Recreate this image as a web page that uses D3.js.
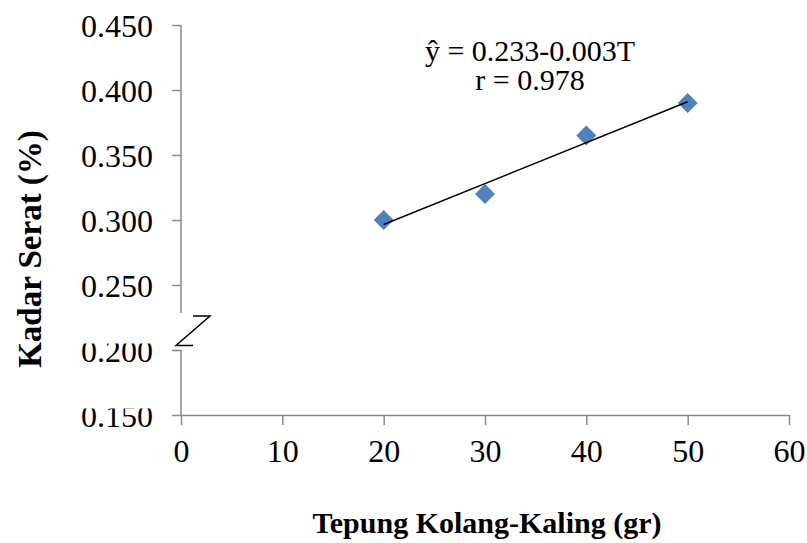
<!DOCTYPE html>
<html>
<head>
<meta charset="utf-8">
<script src="https://cdn.jsdelivr.net/npm/d3@7"></script>
<style>
  html, body { margin: 0; padding: 0; background: #fff; }
  svg { display: block; }
  svg text { font-family: "Liberation Serif", Tinos, "Times New Roman", Times, "DejaVu Serif", serif !important; font-weight: 400; fill: #000; }
  svg text.bold { font-weight: 700; }
</style>
</head>
<body>
<svg id="chart" width="807" height="543"></svg>
<script>
// ---- data ----
const flourGrams = [20, 30, 40, 50];
const fiberPct = [0.300, 0.320, 0.365, 0.390];
const xTicks = [0, 10, 20, 30, 40, 50, 60];
const yTicks = [0.150, 0.200, 0.250, 0.300, 0.350, 0.400, 0.450];
const clippedYTicks = [0.150, 0.200];
const equationLines = ["ŷ = 0.233-0.003T", "r = 0.978"];
const xTitle = "Tepung Kolang-Kaling (gr)";
const yTitle = "Kadar Serat (%)";

// ---- layout ----
const serif = "'Liberation Serif', Tinos, 'Times New Roman', Times, 'DejaVu Serif', serif";
const svg = d3.select("#chart");
const x = d3.scaleLinear().domain([0, 60]).range([181, 789]);
const y = d3.scaleLinear().domain([0.15, 0.45]).range([415, 25]);
const axisColor = "#8a8a8a";

// y axis (no domain; drawn with break)
const yAxis = svg.append("g")
  .attr("transform", `translate(${x(0)},0)`)
  .call(d3.axisLeft(y).tickValues(yTicks).tickSize(9).tickPadding(19)
        .tickFormat(d3.format(".3f")));
yAxis.attr("font-family", serif).attr("font-size", 32);
yAxis.select(".domain").remove();
yAxis.selectAll(".tick line").attr("stroke", axisColor).attr("stroke-width", 1.5);
yAxis.selectAll(".tick text")
  .attr("font-family", serif)
  .style("font-size", "32px")
  .attr("dy", "0.35em");

// clip the tops of the lower labels (as in the reference)
const defs = svg.append("defs");
yAxis.selectAll(".tick").each(function(d) {
  if (clippedYTicks.some(v => Math.abs(v - d) < 1e-9)) {
    const id = "clip-" + String(d).replace(".", "_");
    defs.append("clipPath").attr("id", id)
      .attr("clipPathUnits", "userSpaceOnUse")
      .append("rect").attr("x", -200).attr("y", -7).attr("width", 200).attr("height", 40);
    d3.select(this).select("text").attr("clip-path", `url(#${id})`);
  }
});

// y axis line with gap
const axX = x(0);
svg.append("line").attr("x1", axX).attr("x2", axX)
  .attr("y1", y(0.45)).attr("y2", y(0.2) - 37)
  .attr("stroke", axisColor).attr("stroke-width", 1.5);
svg.append("line").attr("x1", axX).attr("x2", axX)
  .attr("y1", y(0.2)).attr("y2", y(0.15))
  .attr("stroke", axisColor).attr("stroke-width", 1.5);

// break "Z" symbol
const by = y(0.2);
svg.append("path")
  .attr("d", `M${axX + 12},${by - 34} L${axX + 29},${by - 34} L${axX - 5},${by - 4.5} L${axX + 12},${by - 4.5}`)
  .attr("fill", "none").attr("stroke", "#000").attr("stroke-width", 1.5);

// x axis
const xAxis = svg.append("g")
  .attr("transform", `translate(0,${y(0.15)})`)
  .call(d3.axisBottom(x).tickValues(xTicks).tickSize(10).tickSizeOuter(0).tickPadding(14)
        .tickFormat(d3.format("d")));
xAxis.attr("font-family", serif).attr("font-size", 32);
xAxis.select(".domain").attr("stroke", axisColor).attr("stroke-width", 1.5);
xAxis.selectAll(".tick line").attr("stroke", axisColor).attr("stroke-width", 1.5);
xAxis.selectAll(".tick text")
  .attr("font-family", serif)
  .style("font-size", "32px");

// markers
const pts = flourGrams.map((g, i) => ({ g, v: fiberPct[i] }));
svg.append("g").selectAll("path").data(pts).join("path")
  .attr("d", d3.symbol(d3.symbolSquare, 200)())
  .attr("transform", d => `translate(${x(d.g)},${y(d.v)}) rotate(45)`)
  .attr("fill", "#4F81BD");

// linear trend line (least squares from the data)
const mx = d3.mean(flourGrams), my = d3.mean(fiberPct);
const sxy = d3.sum(flourGrams, (g, i) => (g - mx) * (fiberPct[i] - my));
const sxx = d3.sum(flourGrams, g => (g - mx) * (g - mx));
const slope = sxy / sxx, icpt = my - slope * mx;
const xMin = d3.min(flourGrams), xMax = d3.max(flourGrams);
svg.append("line")
  .attr("x1", x(xMin)).attr("y1", y(icpt + slope * xMin))
  .attr("x2", x(xMax)).attr("y2", y(icpt + slope * xMax))
  .attr("stroke", "#000").attr("stroke-width", 1.5);

// equation text
svg.append("g").selectAll("text").data(equationLines).join("text")
  .attr("x", 530).attr("y", (d, i) => 61 + i * 29)
  .attr("text-anchor", "middle")
  .attr("font-family", serif)
  .style("font-size", "30px")
  .text(d => d);

// axis titles
svg.append("text")
  .attr("class", "bold")
  .attr("x", 487).attr("y", 533)
  .attr("text-anchor", "middle")
  .attr("font-family", serif)
  .style("font-size", "30px")
  .text(xTitle);
svg.append("text")
  .attr("class", "bold")
  .attr("transform", "translate(41,249) rotate(-90)")
  .attr("text-anchor", "middle")
  .attr("font-family", serif)
  .style("font-size", "33px")
  .text(yTitle);
</script>
</body>
</html>
